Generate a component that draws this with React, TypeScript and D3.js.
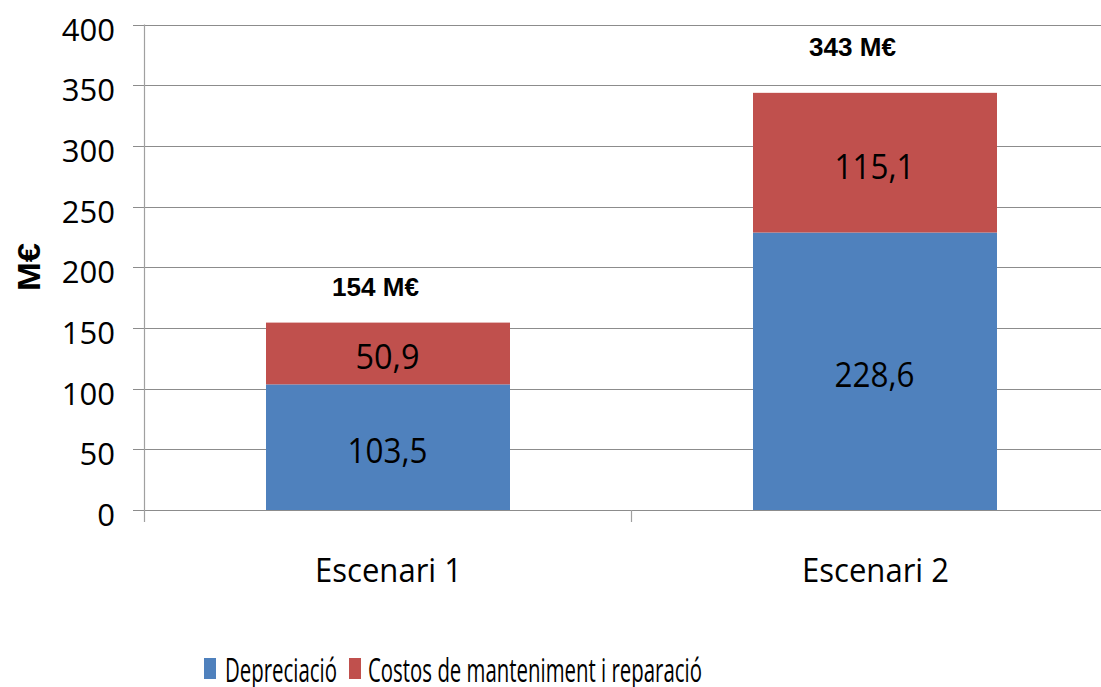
import React, { useLayoutEffect, useRef, useState } from "react";
import * as d3 from "d3";

const categories = ["Escenari 1", "Escenari 2"];
const depreciacio = [103.5, 228.6];
const costos = [50.9, 115.1];
const totalLabels = ["154 M€", "343 M€"];
const yTicks = [0, 50, 100, 150, 200, 250, 300, 350, 400];
const seriesNames = ["Depreciació", "Costos de manteniment i reparació"];
const colors = ["#4F81BD", "#C0504D"];

const fmt = (v: number) => v.toFixed(1).replace(".", ",");

function FitText(props: {
  x: number;
  y: number;
  width: number;
  anchor?: "start" | "middle" | "end";
  fontFamily: string;
  fontSize: number;
  fontWeight?: string;
  children: string;
}) {
  const ref = useRef<SVGTextElement>(null);
  const [sx, setSx] = useState(1);
  useLayoutEffect(() => {
    if (ref.current) {
      const w = ref.current.getComputedTextLength();
      if (w > 0) setSx(props.width / w);
    }
  }, [props.width, props.children]);
  return (
    <text
      ref={ref}
      transform={`translate(${props.x},${props.y}) scale(${sx},1)`}
      textAnchor={props.anchor || "start"}
      fontFamily={props.fontFamily}
      fontSize={props.fontSize}
      fontWeight={props.fontWeight}
      fill="#000"
    >
      {props.children}
    </text>
  );
}

export default function App() {
  const W = 1101;
  const H = 687;
  const x0 = 144;
  const catW = 487;
  const x = d3
    .scaleBand<string>()
    .domain(categories)
    .range([x0, x0 + catW * categories.length])
    .paddingInner(0)
    .paddingOuter(0);
  const y = d3.scaleLinear().domain([0, 400]).range([510, 24.5]);
  const barW = 244;
  const font = "'Open Sans', sans-serif";
  const bold = "'Liberation Sans', Arial, sans-serif";
  const labelOffsets = [
    { dx: -12, dy: -27 },
    { dx: -22, dy: -37 },
  ];
  const stack = categories.map((c, i) => ({
    c,
    segs: [
      { key: 0, y0: 0, y1: depreciacio[i], v: depreciacio[i] },
      { key: 1, y0: depreciacio[i], y1: depreciacio[i] + costos[i], v: costos[i] },
    ],
  }));
  return (
    <div style={{ position: "absolute", left: 0, top: 0 }}>
      <svg width={W} height={H} style={{ display: "block", background: "#fff" }}>
        {yTicks.map((t) => (
          <g key={t}>
            <line x1={133} x2={W} y1={Math.round(y(t)) + 0.5} y2={Math.round(y(t)) + 0.5} stroke="#8c8c8c" strokeWidth={1.2} />
            <text x={115} y={y(t) + 16} textAnchor="end" fontFamily={font} fontSize={31} fill="#000">
              {t}
            </text>
          </g>
        ))}
        <line x1={x0 + 0.5} x2={x0 + 0.5} y1={y(400)} y2={522} stroke="#a0a0a0" strokeWidth={1.2} />
        {categories.map((c, i) =>
          i > 0 ? (
            <line key={c} x1={(x(c) as number) + 0.5} x2={(x(c) as number) + 0.5} y1={y(0)} y2={522} stroke="#a0a0a0" strokeWidth={1.2} />
          ) : null
        )}
        {stack.map((s, i) => {
          const cx = (x(s.c) as number) + x.bandwidth() / 2;
          return (
            <g key={s.c}>
              {s.segs.map((seg) => (
                <rect
                  key={seg.key}
                  x={Math.round(cx - barW / 2)}
                  width={barW}
                  y={y(seg.y1)}
                  height={y(seg.y0) - y(seg.y1)}
                  fill={colors[seg.key]}
                />
              ))}
              {s.segs.map((seg) => {
                const label = fmt(seg.v);
                return (
                  <FitText
                    key={"l" + seg.key}
                    x={cx}
                    y={(y(seg.y0) + y(seg.y1)) / 2 + 16}
                    anchor="middle"
                    fontFamily={font}
                    fontSize={35}
                    width={label.length === 5 ? 80 : 64}
                  >
                    {label}
                  </FitText>
                );
              })}
              <FitText
                x={cx + labelOffsets[i].dx}
                y={y(s.segs[1].y1) + labelOffsets[i].dy}
                anchor="middle"
                fontFamily={bold}
                fontWeight="bold"
                fontSize={25}
                width={87}
              >
                {totalLabels[i]}
              </FitText>
              <FitText x={cx + 1} y={581.7} anchor="middle" fontFamily={font} fontSize={32} width={147}>
                {s.c}
              </FitText>
            </g>
          );
        })}
        <text
          transform={`translate(39.5,267) rotate(-90)`}
          textAnchor="middle"
          fontFamily={bold}
          fontWeight="bold"
          fontSize={31}
          textLength={48}
          lengthAdjust="spacingAndGlyphs"
          fill="#000"
        >
          M€
        </text>
        <g>
          <rect x={204} y={658} width={12} height={21} fill={colors[0]} />
          <FitText x={225} y={681.5} fontFamily={font} fontSize={32} width={112}>
            {seriesNames[0]}
          </FitText>
          <rect x={349} y={658} width={12} height={21} fill={colors[1]} />
          <FitText x={368} y={681.5} fontFamily={font} fontSize={32} width={334}>
            {seriesNames[1]}
          </FitText>
        </g>
      </svg>
    </div>
  );
}
